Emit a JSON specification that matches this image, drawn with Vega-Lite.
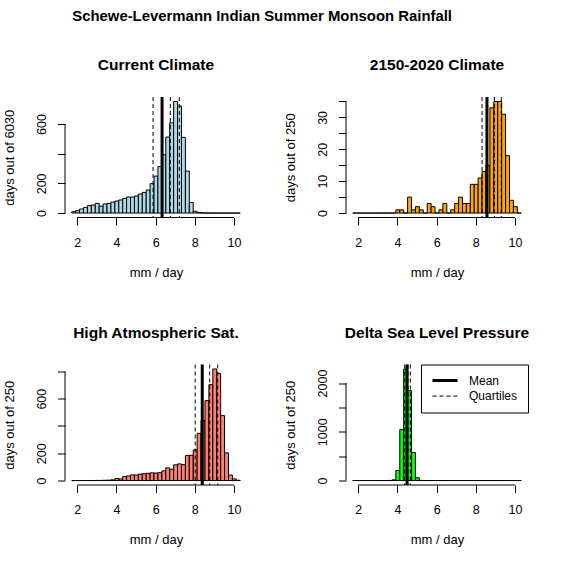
{
  "$schema": "https://vega.github.io/schema/vega-lite/v6.json",
  "autosize": {"type": "none"},
  "padding": {"left": 65, "top": 97, "right": 497, "bottom": 469},
  "background": "white",
  "title": {
    "text": "Schewe-Levermann Indian Summer Monsoon Rainfall",
    "fontSize": 14.9,
    "fontWeight": "bold",
    "anchor": "middle",
    "frame": "bounds",
    "baseline": "alphabetic",
    "offset": 22,
    "dx": -4
  },
  "datasets": {
    "cur": [
      {"lo": 1.72, "hi": 1.92, "n": 9}, {"lo": 1.92, "hi": 2.12, "n": 16}, {"lo": 2.12, "hi": 2.32, "n": 27},
      {"lo": 2.32, "hi": 2.52, "n": 38}, {"lo": 2.52, "hi": 2.72, "n": 50}, {"lo": 2.72, "hi": 2.92, "n": 54},
      {"lo": 2.92, "hi": 3.12, "n": 65}, {"lo": 3.12, "hi": 3.32, "n": 47}, {"lo": 3.32, "hi": 3.52, "n": 61},
      {"lo": 3.52, "hi": 3.72, "n": 65}, {"lo": 3.72, "hi": 3.92, "n": 74}, {"lo": 3.92, "hi": 4.12, "n": 81},
      {"lo": 4.12, "hi": 4.32, "n": 88}, {"lo": 4.32, "hi": 4.52, "n": 99}, {"lo": 4.52, "hi": 4.72, "n": 108},
      {"lo": 4.72, "hi": 4.92, "n": 108}, {"lo": 4.92, "hi": 5.12, "n": 115}, {"lo": 5.12, "hi": 5.32, "n": 128},
      {"lo": 5.32, "hi": 5.52, "n": 139}, {"lo": 5.52, "hi": 5.72, "n": 155}, {"lo": 5.72, "hi": 5.92, "n": 198},
      {"lo": 5.92, "hi": 6.12, "n": 249}, {"lo": 6.12, "hi": 6.32, "n": 313}, {"lo": 6.32, "hi": 6.52, "n": 393},
      {"lo": 6.52, "hi": 6.72, "n": 512}, {"lo": 6.72, "hi": 6.92, "n": 608}, {"lo": 6.92, "hi": 7.12, "n": 752},
      {"lo": 7.12, "hi": 7.32, "n": 721}, {"lo": 7.32, "hi": 7.52, "n": 510}, {"lo": 7.52, "hi": 7.72, "n": 283},
      {"lo": 7.72, "hi": 7.92, "n": 71}, {"lo": 7.92, "hi": 8.12, "n": 12}, {"lo": 8.12, "hi": 8.32, "n": 3},
      {"lo": 8.32, "hi": 8.52, "n": 1}, {"lo": 8.52, "hi": 8.72, "n": 0}, {"lo": 8.72, "hi": 8.92, "n": 0},
      {"lo": 8.92, "hi": 9.12, "n": 0}, {"lo": 9.12, "hi": 9.32, "n": 0}, {"lo": 9.32, "hi": 9.52, "n": 0},
      {"lo": 9.52, "hi": 9.72, "n": 0}, {"lo": 9.72, "hi": 9.92, "n": 0}, {"lo": 9.92, "hi": 10.12, "n": 0},
      {"lo": 10.12, "hi": 10.32, "n": 0}
    ],
    "fut": [
      {"lo": 1.72, "hi": 1.92, "n": 0}, {"lo": 1.92, "hi": 2.12, "n": 0}, {"lo": 2.12, "hi": 2.32, "n": 0},
      {"lo": 2.32, "hi": 2.52, "n": 0}, {"lo": 2.52, "hi": 2.72, "n": 0}, {"lo": 2.72, "hi": 2.92, "n": 0},
      {"lo": 2.92, "hi": 3.12, "n": 0}, {"lo": 3.12, "hi": 3.32, "n": 0}, {"lo": 3.32, "hi": 3.52, "n": 0},
      {"lo": 3.52, "hi": 3.72, "n": 0}, {"lo": 3.72, "hi": 3.92, "n": 0}, {"lo": 3.92, "hi": 4.12, "n": 1},
      {"lo": 4.12, "hi": 4.32, "n": 1}, {"lo": 4.32, "hi": 4.52, "n": 0}, {"lo": 4.52, "hi": 4.72, "n": 5},
      {"lo": 4.72, "hi": 4.92, "n": 1}, {"lo": 4.92, "hi": 5.12, "n": 2}, {"lo": 5.12, "hi": 5.32, "n": 1},
      {"lo": 5.32, "hi": 5.52, "n": 0}, {"lo": 5.52, "hi": 5.72, "n": 3}, {"lo": 5.72, "hi": 5.92, "n": 2},
      {"lo": 5.92, "hi": 6.12, "n": 0}, {"lo": 6.12, "hi": 6.32, "n": 1}, {"lo": 6.32, "hi": 6.52, "n": 3},
      {"lo": 6.52, "hi": 6.72, "n": 0}, {"lo": 6.72, "hi": 6.92, "n": 1}, {"lo": 6.92, "hi": 7.12, "n": 3},
      {"lo": 7.12, "hi": 7.32, "n": 5}, {"lo": 7.32, "hi": 7.52, "n": 3}, {"lo": 7.52, "hi": 7.72, "n": 3},
      {"lo": 7.72, "hi": 7.92, "n": 9}, {"lo": 7.92, "hi": 8.12, "n": 9}, {"lo": 8.12, "hi": 8.32, "n": 11},
      {"lo": 8.32, "hi": 8.52, "n": 13}, {"lo": 8.52, "hi": 8.72, "n": 15}, {"lo": 8.72, "hi": 8.92, "n": 33},
      {"lo": 8.92, "hi": 9.12, "n": 35}, {"lo": 9.12, "hi": 9.32, "n": 35}, {"lo": 9.32, "hi": 9.52, "n": 31},
      {"lo": 9.52, "hi": 9.72, "n": 18}, {"lo": 9.72, "hi": 9.92, "n": 4}, {"lo": 9.92, "hi": 10.12, "n": 2},
      {"lo": 10.12, "hi": 10.32, "n": 0}
    ],
    "sat": [
      {"lo": 1.72, "hi": 1.92, "n": 0}, {"lo": 1.92, "hi": 2.12, "n": 0}, {"lo": 2.12, "hi": 2.32, "n": 0},
      {"lo": 2.32, "hi": 2.52, "n": 0}, {"lo": 2.52, "hi": 2.72, "n": 0}, {"lo": 2.72, "hi": 2.92, "n": 0},
      {"lo": 2.92, "hi": 3.12, "n": 1}, {"lo": 3.12, "hi": 3.32, "n": 1}, {"lo": 3.32, "hi": 3.52, "n": 2},
      {"lo": 3.52, "hi": 3.72, "n": 3}, {"lo": 3.72, "hi": 3.92, "n": 5}, {"lo": 3.92, "hi": 4.12, "n": 15},
      {"lo": 4.12, "hi": 4.32, "n": 12}, {"lo": 4.32, "hi": 4.52, "n": 29}, {"lo": 4.52, "hi": 4.72, "n": 34},
      {"lo": 4.72, "hi": 4.92, "n": 41}, {"lo": 4.92, "hi": 5.12, "n": 41}, {"lo": 5.12, "hi": 5.32, "n": 47},
      {"lo": 5.32, "hi": 5.52, "n": 50}, {"lo": 5.52, "hi": 5.72, "n": 53}, {"lo": 5.72, "hi": 5.92, "n": 56},
      {"lo": 5.92, "hi": 6.12, "n": 55}, {"lo": 6.12, "hi": 6.32, "n": 58}, {"lo": 6.32, "hi": 6.52, "n": 71},
      {"lo": 6.52, "hi": 6.72, "n": 93}, {"lo": 6.72, "hi": 6.92, "n": 83}, {"lo": 6.92, "hi": 7.12, "n": 115},
      {"lo": 7.12, "hi": 7.32, "n": 122}, {"lo": 7.32, "hi": 7.52, "n": 117}, {"lo": 7.52, "hi": 7.72, "n": 183},
      {"lo": 7.72, "hi": 7.92, "n": 185}, {"lo": 7.92, "hi": 8.12, "n": 225}, {"lo": 8.12, "hi": 8.32, "n": 346},
      {"lo": 8.32, "hi": 8.52, "n": 440}, {"lo": 8.52, "hi": 8.72, "n": 586}, {"lo": 8.72, "hi": 8.92, "n": 703},
      {"lo": 8.92, "hi": 9.12, "n": 818}, {"lo": 9.12, "hi": 9.32, "n": 786}, {"lo": 9.32, "hi": 9.52, "n": 476},
      {"lo": 9.52, "hi": 9.72, "n": 203}, {"lo": 9.72, "hi": 9.92, "n": 40}, {"lo": 9.92, "hi": 10.12, "n": 12},
      {"lo": 10.12, "hi": 10.32, "n": 2}
    ],
    "slp": [
      {"lo": 1.72, "hi": 1.92, "n": 0}, {"lo": 1.92, "hi": 2.12, "n": 0}, {"lo": 2.12, "hi": 2.32, "n": 0},
      {"lo": 2.32, "hi": 2.52, "n": 0}, {"lo": 2.52, "hi": 2.72, "n": 0}, {"lo": 2.72, "hi": 2.92, "n": 0},
      {"lo": 2.92, "hi": 3.12, "n": 0}, {"lo": 3.12, "hi": 3.32, "n": 0}, {"lo": 3.32, "hi": 3.52, "n": 0},
      {"lo": 3.52, "hi": 3.72, "n": 2}, {"lo": 3.72, "hi": 3.92, "n": 14}, {"lo": 3.92, "hi": 4.12, "n": 205},
      {"lo": 4.12, "hi": 4.32, "n": 1045}, {"lo": 4.32, "hi": 4.52, "n": 2288}, {"lo": 4.52, "hi": 4.72, "n": 1844},
      {"lo": 4.72, "hi": 4.92, "n": 574}, {"lo": 4.92, "hi": 5.12, "n": 55}, {"lo": 5.12, "hi": 5.32, "n": 3},
      {"lo": 5.32, "hi": 5.52, "n": 0}, {"lo": 5.52, "hi": 5.72, "n": 0}, {"lo": 5.72, "hi": 5.92, "n": 0},
      {"lo": 5.92, "hi": 6.12, "n": 0}, {"lo": 6.12, "hi": 6.32, "n": 0}, {"lo": 6.32, "hi": 6.52, "n": 0},
      {"lo": 6.52, "hi": 6.72, "n": 0}, {"lo": 6.72, "hi": 6.92, "n": 0}, {"lo": 6.92, "hi": 7.12, "n": 0},
      {"lo": 7.12, "hi": 7.32, "n": 0}, {"lo": 7.32, "hi": 7.52, "n": 0}, {"lo": 7.52, "hi": 7.72, "n": 0},
      {"lo": 7.72, "hi": 7.92, "n": 0}, {"lo": 7.92, "hi": 8.12, "n": 0}, {"lo": 8.12, "hi": 8.32, "n": 0},
      {"lo": 8.32, "hi": 8.52, "n": 0}, {"lo": 8.52, "hi": 8.72, "n": 0}, {"lo": 8.72, "hi": 8.92, "n": 0},
      {"lo": 8.92, "hi": 9.12, "n": 0}, {"lo": 9.12, "hi": 9.32, "n": 0}, {"lo": 9.32, "hi": 9.52, "n": 0},
      {"lo": 9.52, "hi": 9.72, "n": 0}, {"lo": 9.72, "hi": 9.92, "n": 0}, {"lo": 9.92, "hi": 10.12, "n": 0},
      {"lo": 10.12, "hi": 10.32, "n": 0}
    ],
    "stats": [
      {"p": "cur", "stat": "Mean", "v": 6.33}, {"p": "cur", "stat": "Quartiles", "v": 5.87},
      {"p": "cur", "stat": "Quartiles", "v": 6.75}, {"p": "cur", "stat": "Quartiles", "v": 7.21},
      {"p": "fut", "stat": "Mean", "v": 8.57}, {"p": "fut", "stat": "Quartiles", "v": 8.32},
      {"p": "fut", "stat": "Quartiles", "v": 8.95}, {"p": "fut", "stat": "Quartiles", "v": 9.3},
      {"p": "sat", "stat": "Mean", "v": 8.38}, {"p": "sat", "stat": "Quartiles", "v": 8.02},
      {"p": "sat", "stat": "Quartiles", "v": 8.76}, {"p": "sat", "stat": "Quartiles", "v": 9.17},
      {"p": "slp", "stat": "Mean", "v": 4.49}, {"p": "slp", "stat": "Quartiles", "v": 4.37},
      {"p": "slp", "stat": "Quartiles", "v": 4.54}, {"p": "slp", "stat": "Quartiles", "v": 4.66}
    ]
  },
  "columns": 2,
  "bounds": "flush",
  "spacing": {"row": 146.5, "column": 99},
  "concat": [
    {
      "width": 182, "height": 120.5,
      "title": "Current Climate",
      "layer": [
        {
          "data": {"name": "cur"},
          "mark": {"type": "bar", "fill": "#ADD8E6", "stroke": "black", "strokeWidth": 1},
          "encoding": {
            "x": {"field": "lo", "type": "quantitative", "scale": {"domain": [1.376, 10.664], "nice": false, "zero": false},
                  "axis": {"values": [2, 4, 6, 8, 10], "format": "d", "title": "mm / day"}},
            "x2": {"field": "hi"},
            "y": {"field": "n", "type": "quantitative", "scale": {"domain": [-30.08, 782.08], "nice": false, "zero": false},
                  "axis": {"values": [0, 200, 400, 600], "labelExpr": "datum.value == 400 ? '' : datum.label", "title": "days out of 6030"}},
            "y2": {"datum": 0}
          }
        },
        {
          "data": {"name": "stats"},
          "transform": [{"filter": "datum.p == 'cur'"}],
          "mark": {"type": "rule", "color": "black"},
          "encoding": {
            "x": {"field": "v", "type": "quantitative"},
            "strokeDash": {"field": "stat", "type": "nominal", "scale": {"domain": ["Mean", "Quartiles"], "range": [[1, 0], [4, 3]]}, "legend": null},
            "strokeWidth": {"field": "stat", "type": "nominal", "scale": {"domain": ["Mean", "Quartiles"], "range": [3, 1]}, "legend": null}
          }
        },
        {
          "data": {"values": [{}]},
          "mark": {"type": "rule", "color": "black"},
          "encoding": {"x": {"datum": 2}, "x2": {"datum": 10}, "y": {"datum": -30.08}}
        },
        {
          "data": {"values": [{}]},
          "mark": {"type": "rule", "color": "black"},
          "encoding": {"x": {"datum": 1.376}, "y": {"datum": 0}, "y2": {"datum": 600}}
        }
      ]
    },
    {
      "width": 182, "height": 120.5,
      "title": "2150-2020 Climate",
      "layer": [
        {
          "data": {"name": "fut"},
          "mark": {"type": "bar", "fill": "#FFA500", "stroke": "black", "strokeWidth": 1},
          "encoding": {
            "x": {"field": "lo", "type": "quantitative", "scale": {"domain": [1.376, 10.664], "nice": false, "zero": false},
                  "axis": {"values": [2, 4, 6, 8, 10], "format": "d", "title": "mm / day"}},
            "x2": {"field": "hi"},
            "y": {"field": "n", "type": "quantitative", "scale": {"domain": [-1.4, 36.4], "nice": false, "zero": false},
                  "axis": {"values": [0, 5, 10, 15, 20, 25, 30, 35], "labelExpr": "datum.value % 10 == 0 ? datum.label : ''", "title": "days out of 250"}},
            "y2": {"datum": 0}
          }
        },
        {
          "data": {"name": "stats"},
          "transform": [{"filter": "datum.p == 'fut'"}],
          "mark": {"type": "rule", "color": "black"},
          "encoding": {
            "x": {"field": "v", "type": "quantitative"},
            "strokeDash": {"field": "stat", "type": "nominal", "scale": {"domain": ["Mean", "Quartiles"], "range": [[1, 0], [4, 3]]}, "legend": null},
            "strokeWidth": {"field": "stat", "type": "nominal", "scale": {"domain": ["Mean", "Quartiles"], "range": [3, 1]}, "legend": null}
          }
        },
        {
          "data": {"values": [{}]},
          "mark": {"type": "rule", "color": "black"},
          "encoding": {"x": {"datum": 2}, "x2": {"datum": 10}, "y": {"datum": -1.4}}
        },
        {
          "data": {"values": [{}]},
          "mark": {"type": "rule", "color": "black"},
          "encoding": {"x": {"datum": 1.376}, "y": {"datum": 0}, "y2": {"datum": 35}}
        }
      ]
    },
    {
      "width": 182, "height": 120.5,
      "title": "High Atmospheric Sat.",
      "layer": [
        {
          "data": {"name": "sat"},
          "mark": {"type": "bar", "fill": "#FA8072", "stroke": "black", "strokeWidth": 1},
          "encoding": {
            "x": {"field": "lo", "type": "quantitative", "scale": {"domain": [1.376, 10.664], "nice": false, "zero": false},
                  "axis": {"values": [2, 4, 6, 8, 10], "format": "d", "title": "mm / day"}},
            "x2": {"field": "hi"},
            "y": {"field": "n", "type": "quantitative", "scale": {"domain": [-32.72, 850.72], "nice": false, "zero": false},
                  "axis": {"values": [0, 200, 400, 600, 800], "labelExpr": "datum.value == 400 || datum.value == 800 ? '' : datum.label", "title": "days out of 250"}},
            "y2": {"datum": 0}
          }
        },
        {
          "data": {"name": "stats"},
          "transform": [{"filter": "datum.p == 'sat'"}],
          "mark": {"type": "rule", "color": "black"},
          "encoding": {
            "x": {"field": "v", "type": "quantitative"},
            "strokeDash": {"field": "stat", "type": "nominal", "scale": {"domain": ["Mean", "Quartiles"], "range": [[1, 0], [4, 3]]}, "legend": null},
            "strokeWidth": {"field": "stat", "type": "nominal", "scale": {"domain": ["Mean", "Quartiles"], "range": [3, 1]}, "legend": null}
          }
        },
        {
          "data": {"values": [{}]},
          "mark": {"type": "rule", "color": "black"},
          "encoding": {"x": {"datum": 2}, "x2": {"datum": 10}, "y": {"datum": -32.72}}
        },
        {
          "data": {"values": [{}]},
          "mark": {"type": "rule", "color": "black"},
          "encoding": {"x": {"datum": 1.376}, "y": {"datum": 0}, "y2": {"datum": 800}}
        }
      ]
    },
    {
      "width": 182, "height": 120.5,
      "title": "Delta Sea Level Pressure",
      "layer": [
        {
          "data": {"name": "slp"},
          "mark": {"type": "bar", "fill": "#00FF00", "stroke": "black", "strokeWidth": 1},
          "encoding": {
            "x": {"field": "lo", "type": "quantitative", "scale": {"domain": [1.376, 10.664], "nice": false, "zero": false},
                  "axis": {"values": [2, 4, 6, 8, 10], "format": "d", "title": "mm / day"}},
            "x2": {"field": "hi"},
            "y": {"field": "n", "type": "quantitative", "scale": {"domain": [-91.52, 2379.52], "nice": false, "zero": false},
                  "axis": {"values": [0, 500, 1000, 1500, 2000], "format": "d", "labelExpr": "datum.value % 1000 == 0 ? datum.label : ''", "title": "days out of 250"}},
            "y2": {"datum": 0}
          }
        },
        {
          "data": {"name": "stats"},
          "transform": [{"filter": "datum.p == 'slp'"}],
          "mark": {"type": "rule", "color": "black"},
          "encoding": {
            "x": {"field": "v", "type": "quantitative"},
            "strokeDash": {"field": "stat", "type": "nominal", "scale": {"domain": ["Mean", "Quartiles"], "range": [[1, 0], [4, 3]]},
                           "legend": {"title": null, "orient": "top-right", "offset": 0, "padding": 10, "strokeColor": "black", "fillColor": "white",
                                      "symbolType": "stroke", "symbolSize": 625, "symbolStrokeColor": "black", "labelFontSize": 12,
                                      "labelOffset": 10, "rowPadding": 3.6, "clipHeight": 12, "labelColor": "black"}},
            "strokeWidth": {"field": "stat", "type": "nominal", "scale": {"domain": ["Mean", "Quartiles"], "range": [3, 1]},
                            "legend": {"title": null, "orient": "top-right", "offset": 0, "padding": 10, "strokeColor": "black", "fillColor": "white",
                                       "symbolType": "stroke", "symbolSize": 625, "symbolStrokeColor": "black", "labelFontSize": 12,
                                       "labelOffset": 10, "rowPadding": 3.6, "clipHeight": 12, "labelColor": "black"}}
          }
        },
        {
          "data": {"values": [{}]},
          "mark": {"type": "rule", "color": "black"},
          "encoding": {"x": {"datum": 2}, "x2": {"datum": 10}, "y": {"datum": -91.52}}
        },
        {
          "data": {"values": [{}]},
          "mark": {"type": "rule", "color": "black"},
          "encoding": {"x": {"datum": 1.376}, "y": {"datum": 0}, "y2": {"datum": 2000}}
        }
      ]
    }
  ],
  "resolve": {
    "scale": {"x": "independent", "y": "independent", "strokeDash": "independent", "strokeWidth": "independent"},
    "legend": {"strokeDash": "independent", "strokeWidth": "independent"}
  },
  "config": {
    "font": "Liberation Sans",
    "view": {"stroke": null},
    "axis": {
      "domain": false, "grid": false, "ticks": true, "tickSize": 7.5, "tickWidth": 1, "tickColor": "black", "tickCount": 50,
      "labelColor": "black", "labelFont": "Liberation Sans", "labelFontSize": 12.5, "labelOverlap": false, "labelFlush": false,
      "titleColor": "black", "titleFont": "Liberation Sans", "titleFontSize": 13, "titleFontWeight": "normal"
    },
    "axisX": {"labelAngle": 0, "labelBaseline": "top", "labelPadding": 11.3, "titleAlign": "center", "titleBaseline": "alphabetic", "titleX": 91, "titleY": 58.5},
    "axisY": {"labelAngle": 270, "labelAlign": "center", "labelBaseline": "alphabetic", "labelPadding": 12, "titleAngle": 270, "titleAlign": "center", "titleBaseline": "alphabetic", "titleX": -52, "titleY": 60.25},
    "title": {"font": "Liberation Sans", "fontSize": 15.5, "fontWeight": "bold", "color": "black", "anchor": "middle", "frame": "group", "baseline": "alphabetic", "offset": 22},
    "legend": {"labelFont": "Liberation Sans"}
  }
}
